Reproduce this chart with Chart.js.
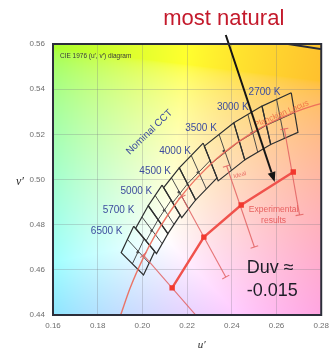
<!DOCTYPE html>
<html>
<head>
<meta charset="utf-8">
<script src="https://cdn.jsdelivr.net/npm/chart.js@4/dist/chart.umd.min.js"></script>
<style>
  html, body { margin: 0; padding: 0; background: #ffffff; }
  #wrap { width: 335px; height: 356px; position: relative; }
</style>
</head>
<body>
<div id="wrap"><canvas id="c" width="335" height="356"></canvas></div>
<script>
// ---- axis ticks -------------------------------------------------------
const uTicks = [0.16, 0.18, 0.20, 0.22, 0.24, 0.26, 0.28];
const vTicks = [0.44, 0.46, 0.48, 0.50, 0.52, 0.54, 0.56];

// ---- Planckian locus (u', v'), from 10000 K down to 2300 K -------------
const planckU = [0.1903, 0.1946, 0.2005, 0.2054, 0.2115, 0.2174, 0.2252, 0.2357, 0.2505, 0.2624, 0.2721, 0.2835];
const planckV = [0.4401, 0.4522, 0.4655, 0.4748, 0.4845, 0.4926, 0.5015, 0.5113, 0.5215, 0.5275, 0.5313, 0.5346];

// ---- spectral locus piece crossing the top-right corner ----------------
const spectralU = [0.2312, 0.2623, 0.2960];
const spectralV = [0.5651, 0.5604, 0.5554];

// ---- nominal CCT quadrangles: corners A (top, warm side), B (top, cool side),
//      C (bottom, cool side), D (bottom, warm side) -------------------------
const cctNames = ['2700 K', '3000 K', '3500 K', '4000 K', '4500 K', '5000 K', '5700 K', '6500 K'];
const quadU = [
  [0.2666, 0.2535, 0.2574, 0.2696],
  [0.2535, 0.2409, 0.2458, 0.2574],
  [0.2409, 0.2277, 0.2339, 0.2458],
  [0.2272, 0.2165, 0.2238, 0.2334],
  [0.2165, 0.2095, 0.2176, 0.2238],
  [0.2088, 0.2026, 0.2114, 0.2169],
  [0.2026, 0.1970, 0.2063, 0.2114],
  [0.1961, 0.1905, 0.2005, 0.2055]
];
const quadV = [
  [0.5384, 0.5325, 0.5155, 0.5209],
  [0.5325, 0.5251, 0.5087, 0.5155],
  [0.5251, 0.5148, 0.4994, 0.5087],
  [0.5161, 0.5052, 0.4909, 0.5007],
  [0.5052, 0.4964, 0.4831, 0.4909],
  [0.4975, 0.4884, 0.4760, 0.4842],
  [0.4884, 0.4784, 0.4672, 0.4760],
  [0.4793, 0.4676, 0.4577, 0.4682]
];
const centerU = [0.2614, 0.2489, 0.2364, 0.2248, 0.2163, 0.2097, 0.2041, 0.1979];
const centerV = [0.5269, 0.5206, 0.5126, 0.5031, 0.4944, 0.4864, 0.4773, 0.4678];

// ---- experimental results with their spread ---------------------------
const expU = [0.2133, 0.2275, 0.2442, 0.2675];
const expV = [0.4520, 0.4745, 0.4887, 0.5033];
const errTopU = [0.2004, 0.2177, 0.2377, 0.2635];
const errTopV = [0.4666, 0.4923, 0.5060, 0.5224];
const errLowU = [0.2262, 0.2373, 0.2501, 0.2703];
const errLowV = [0.4373, 0.4568, 0.4701, 0.4843];

// ---- helpers ----------------------------------------------------------
const SANS = "'Liberation Sans', Arial, Helvetica, sans-serif";
const SERIF = "'Liberation Serif', 'DejaVu Serif', serif";
const pts = (us, vs) => us.map((u, i) => ({ x: u, y: vs[i] }));
const mid = (a, b) => ({ x: (a.x + b.x) / 2, y: (a.y + b.y) / 2 });

const datasets = [];

// experimental line with square markers (drawn on top)
datasets.push({
  data: pts(expU, expV),
  showLine: true,
  borderColor: '#f0524c',
  borderWidth: 2.4,
  pointStyle: 'rect',
  pointRadius: 3.8,
  pointBackgroundColor: '#f2382e',
  pointBorderColor: '#f2382e',
  pointBorderWidth: 0,
  clip: 0
});

// error bars, each capped at both ends perpendicular to the bar
expU.forEach((_, i) => {
  datasets.push({
    data: [{ x: errTopU[i], y: errTopV[i] }, { x: errLowU[i], y: errLowV[i] }],
    showLine: true,
    borderColor: 'rgba(226, 96, 96, 0.85)',
    borderWidth: 1.1,
    pointStyle: 'line',
    pointRadius: 4,
    pointBorderColor: 'rgba(226, 96, 96, 0.85)',
    pointBorderWidth: 1.1,
    pointRotation: (ctx) => {
      const xs = ctx.chart.scales.x, ys = ctx.chart.scales.y;
      const d = ctx.dataset.data;
      const dx = xs.getPixelForValue(d[1].x) - xs.getPixelForValue(d[0].x);
      const dy = ys.getPixelForValue(d[1].y) - ys.getPixelForValue(d[0].y);
      return Math.atan2(dy, dx) * 180 / Math.PI + 90;
    },
    clip: 0
  });
});

// Planckian locus
datasets.push({
  data: pts(planckU, planckV),
  showLine: true,
  tension: 0.3,
  borderColor: 'rgba(236, 104, 88, 0.9)',
  borderWidth: 1.4,
  pointRadius: 0,
  clip: 0
});

// quadrangle centre points
datasets.push({
  data: pts(centerU, centerV),
  showLine: false,
  pointRadius: 1.3,
  pointBackgroundColor: '#4a4a4a',
  pointBorderWidth: 0
});

// quadrangles with their 2 x 2 subdivisions
quadU.forEach((us, k) => {
  const c = pts(us, quadV[k]);
  datasets.push({
    data: [c[0], c[1], c[2], c[3], c[0]],
    showLine: true, borderColor: '#2e3030', borderWidth: 1.2, pointRadius: 0
  });
  datasets.push({
    data: [mid(c[0], c[1]), mid(c[3], c[2])],
    showLine: true, borderColor: '#3a3c3c', borderWidth: 0.9, pointRadius: 0
  });
  datasets.push({
    data: [mid(c[1], c[2]), mid(c[0], c[3])],
    showLine: true, borderColor: '#3a3c3c', borderWidth: 0.9, pointRadius: 0
  });
});

// spectral locus
datasets.push({
  data: pts(spectralU, spectralV),
  showLine: true,
  borderColor: '#2a2c36',
  borderWidth: 2,
  pointRadius: 0,
  clip: 0
});

// ---- colour field of the chromaticity plane ----------------------------
// XYZ -> linear sRGB, balanced so that the equal-energy point is white,
// scaled to the brightest channel and softened towards white.
const WHITE_E = [1.2048, 0.9484, 0.9087];
function chromaColor(u, v) {
  const d = 6 * u - 16 * v + 12;
  const x = 9 * u / d, y = 4 * v / d;
  const X = x / y, Z = (1 - x - y) / y;
  let rgb = [
    ( 3.2406 * X - 1.5372 - 0.4986 * Z) / WHITE_E[0],
    (-0.9689 * X + 1.8758 + 0.0415 * Z) / WHITE_E[1],
    ( 0.0557 * X - 0.2040 + 1.0570 * Z) / WHITE_E[2]
  ].map(c => Math.max(0, c));
  const m = Math.max(rgb[0], rgb[1], rgb[2]);
  return rgb.map(c => {
    c = c / m;
    c = c <= 0.0031308 ? 12.92 * c : 1.055 * Math.pow(c, 1 / 2.4) - 0.055;
    c = c * 0.82 + 0.18;
    return Math.round(255 * c);
  });
}

const fieldPlugin = {
  id: 'chromaField',
  beforeDraw(chart) {
    const { ctx, chartArea: a, scales: { x, y } } = chart;
    const w = Math.round(a.right - a.left), h = Math.round(a.bottom - a.top);
    const off = document.createElement('canvas');
    off.width = w; off.height = h;
    const octx = off.getContext('2d');
    const img = octx.createImageData(w, h);
    for (let j = 0; j < h; j++) {
      const v = y.getValueForPixel(a.top + j + 0.5);
      for (let i = 0; i < w; i++) {
        const u = x.getValueForPixel(a.left + i + 0.5);
        const c = chromaColor(u, v);
        const p = (j * w + i) * 4;
        img.data[p] = c[0]; img.data[p + 1] = c[1]; img.data[p + 2] = c[2]; img.data[p + 3] = 255;
      }
    }
    octx.putImageData(img, 0, 0);
    ctx.drawImage(off, a.left, a.top);
  }
};

// ---- labels, arrow and frame -------------------------------------------
const cctLabelAnchors = [
  [0.2617, 0.5388], [0.2475, 0.5322], [0.2333, 0.5228], [0.2217, 0.5126],
  [0.2128, 0.5035], [0.2044, 0.4946], [0.1964, 0.4865], [0.1911, 0.4769]
];

function text(ctx, str, px, py, opt) {
  ctx.save();
  ctx.translate(px, py);
  if (opt.rot) ctx.rotate(opt.rot * Math.PI / 180);
  ctx.font = opt.font;
  ctx.fillStyle = opt.color;
  ctx.textAlign = opt.align || 'center';
  ctx.textBaseline = opt.baseline || 'middle';
  ctx.fillText(str, 0, 0);
  ctx.restore();
}

const notesPlugin = {
  id: 'notes',
  afterDatasetsDraw(chart) {
    const { ctx, chartArea: a, scales: { x, y } } = chart;
    const X = u => x.getPixelForValue(u), Y = v => y.getPixelForValue(v);

    text(ctx, "CIE 1976 (u\u2032, v\u2032) diagram", X(0.1631), Y(0.5545),
      { font: `6.5px ${SANS}`, color: '#3a3a3a', align: 'left' });

    cctNames.forEach((n, k) => {
      text(ctx, n, X(cctLabelAnchors[k][0]), Y(cctLabelAnchors[k][1]),
        { font: `10px ${SANS}`, color: '#3d4c9e', align: 'right' });
    });
    text(ctx, 'Nominal CCT', X(0.2031), Y(0.5210),
      { font: `10px ${SANS}`, color: '#3d4c9e', rot: -44 });
    text(ctx, 'Planckian Locus', X(0.2622), Y(0.5290),
      { font: `8px ${SANS}`, color: 'rgba(238, 104, 64, 0.9)', rot: -23 });
    text(ctx, 'Ideal', X(0.2436), Y(0.5020),
      { font: `6px ${SANS}`, color: 'rgba(226, 80, 80, 0.8)', rot: -15 });
    text(ctx, 'Experimental', X(0.2587), Y(0.4865),
      { font: `8.5px ${SANS}`, color: 'rgba(228, 84, 84, 0.9)' });
    text(ctx, 'results', X(0.2587), Y(0.4816),
      { font: `8.5px ${SANS}`, color: 'rgba(228, 84, 84, 0.9)' });
    text(ctx, 'Duv \u2248', X(0.2467), Y(0.4606),
      { font: `18px ${SANS}`, color: '#1e1e28', align: 'left' });
    text(ctx, '-0.015', X(0.2467), Y(0.4504),
      { font: `18px ${SANS}`, color: '#1e1e28', align: 'left' });

    // arrow from the headline down onto the experimental line
    const x0 = X(0.2373), y0 = Y(0.5640), x1 = X(0.2592), y1 = Y(0.4989);
    const ang = Math.atan2(y1 - y0, x1 - x0);
    const hl = 10, hw = 4;
    const bx = x1 - hl * Math.cos(ang), by = y1 - hl * Math.sin(ang);
    ctx.save();
    ctx.strokeStyle = '#151515';
    ctx.fillStyle = '#151515';
    ctx.lineWidth = 2;
    ctx.beginPath(); ctx.moveTo(x0, y0); ctx.lineTo(bx, by); ctx.stroke();
    ctx.beginPath();
    ctx.moveTo(x1, y1);
    ctx.lineTo(bx + hw * Math.sin(ang), by - hw * Math.cos(ang));
    ctx.lineTo(bx - hw * Math.sin(ang), by + hw * Math.cos(ang));
    ctx.closePath(); ctx.fill();
    ctx.restore();

    // headline
    text(ctx, 'most natural', X(0.2364), 25,
      { font: `22px ${SANS}`, color: '#c41a2c', baseline: 'alphabetic' });

    // axis titles
    text(ctx, 'v\u2032', a.left - 33, Y(0.50) + 2,
      { font: `italic 12px ${SERIF}`, color: '#2a2a2a' });
    text(ctx, 'u\u2032', X(0.2265), a.bottom + 30,
      { font: `italic 11px ${SERIF}`, color: '#2a2a2a' });
  },
  afterDraw(chart) {
    const { ctx, chartArea: a } = chart;
    ctx.save();
    ctx.strokeStyle = '#2c2e3a';
    ctx.lineWidth = 2;
    ctx.strokeRect(a.left, a.top, a.right - a.left, a.bottom - a.top);
    ctx.restore();
  }
};

const tickFont = { family: SANS, size: 8 };

new Chart(document.getElementById('c'), {
  type: 'scatter',
  data: { datasets },
  options: {
    responsive: false,
    animation: false,
    devicePixelRatio: 1,
    layout: { padding: { left: 0, right: 12, top: 44, bottom: 0 } },
    plugins: { legend: { display: false }, tooltip: { enabled: false } },
    scales: {
      x: {
        type: 'linear', min: 0.16, max: 0.28,
        afterBuildTicks: s => { s.ticks = uTicks.map(value => ({ value })); },
        afterFit: s => { s.height = 41; },
        ticks: { callback: v => v.toFixed(2), font: tickFont, color: '#6e6e6e', padding: 6, maxRotation: 0, autoSkip: false },
        grid: { color: 'rgba(120, 120, 130, 0.28)', lineWidth: 1, drawTicks: false },
        border: { display: false }
      },
      y: {
        type: 'linear', min: 0.44, max: 0.56,
        afterBuildTicks: s => { s.ticks = vTicks.map(value => ({ value })); },
        afterFit: s => { s.width = 53; },
        ticks: { callback: v => v.toFixed(2), font: tickFont, color: '#6e6e6e', padding: 8, autoSkip: false },
        grid: { color: 'rgba(120, 120, 130, 0.28)', lineWidth: 1, drawTicks: false },
        border: { display: false }
      }
    }
  },
  plugins: [fieldPlugin, notesPlugin]
});
</script>
</body>
</html>
